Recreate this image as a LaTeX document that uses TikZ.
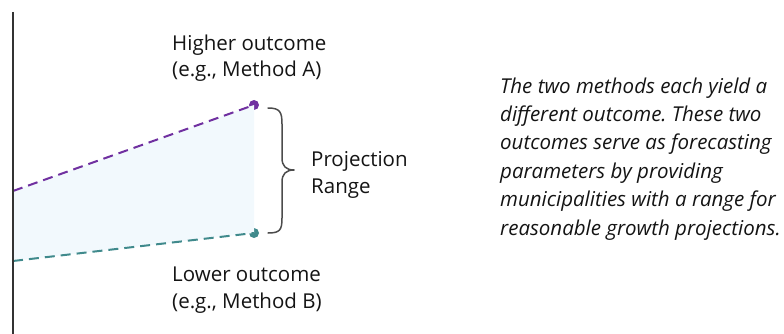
\documentclass[tikz,border=0pt]{standalone}
\usepackage{fontspec}
\setmainfont{Open Sans}
\frenchspacing
\begin{document}
\begin{tikzpicture}[x=1pt,y=-1pt,
  lbl/.style={inner sep=0pt, anchor=base west, align=left, font=\fontsize{20.5}{26.8}\selectfont, text=black!92},
  hi/.style={color={rgb,255:red,112;green,48;blue,160}},
  lo/.style={color={rgb,255:red,64;green,138;blue,140}},
  dash line/.style={line width=2pt, dash pattern=on 10pt off 6pt},
  dot/.style={circle, fill, inner sep=0pt, minimum size=10pt}]
\useasboundingbox (0,0) rectangle (784,334);
\coordinate (hs) at (13,191);
\coordinate (ls) at (13,261);
\node[dot,hi] (hd) at (254,105) {};
\node[dot,lo] (ld) at (254,233) {};
\fill[color={rgb,255:red,242;green,249;blue,253}] (hs) -- (hd.center) -- (ld.center) -- (ls) -- cycle;
\draw[dash line,hi] (hs) -- (hd.center);
\draw[dash line,lo] (ls) -- (ld.center);
\coordinate (vt) at (13,12);
\coordinate (vb) at (13,334);
\draw[line width=2.2pt, black!80] (vt) -- (vb);
% brace
\draw[line width=1.5pt, black!70, line cap=round, line join=round]
  (268,108) .. controls (280,108) and (282,112) .. (282,124)
  -- (282,158) .. controls (282,166) and (286,170) .. (294,170)
  .. controls (286,170) and (282,174) .. (282,182)
  -- (282,218) .. controls (282,230) and (280,233) .. (268,233);
\node[lbl] (proj) at (311,193) {Projection\\Range};
\node[lbl] (high) at (172,77) {Higher outcome\\(e.g., Method A)};
\node[lbl] (low) at (172,308) {Lower outcome\\(e.g., Method B)};
\node[lbl, font=\itshape\fontsize{20.5}{28.4}\selectfont] (desc) at (500,235)
  {The two methods each yield a\\different outcome. These two\\outcomes serve as forecasting\\parameters by providing\\municipalities with a range for\\reasonable growth projections.};
\end{tikzpicture}
\end{document}
